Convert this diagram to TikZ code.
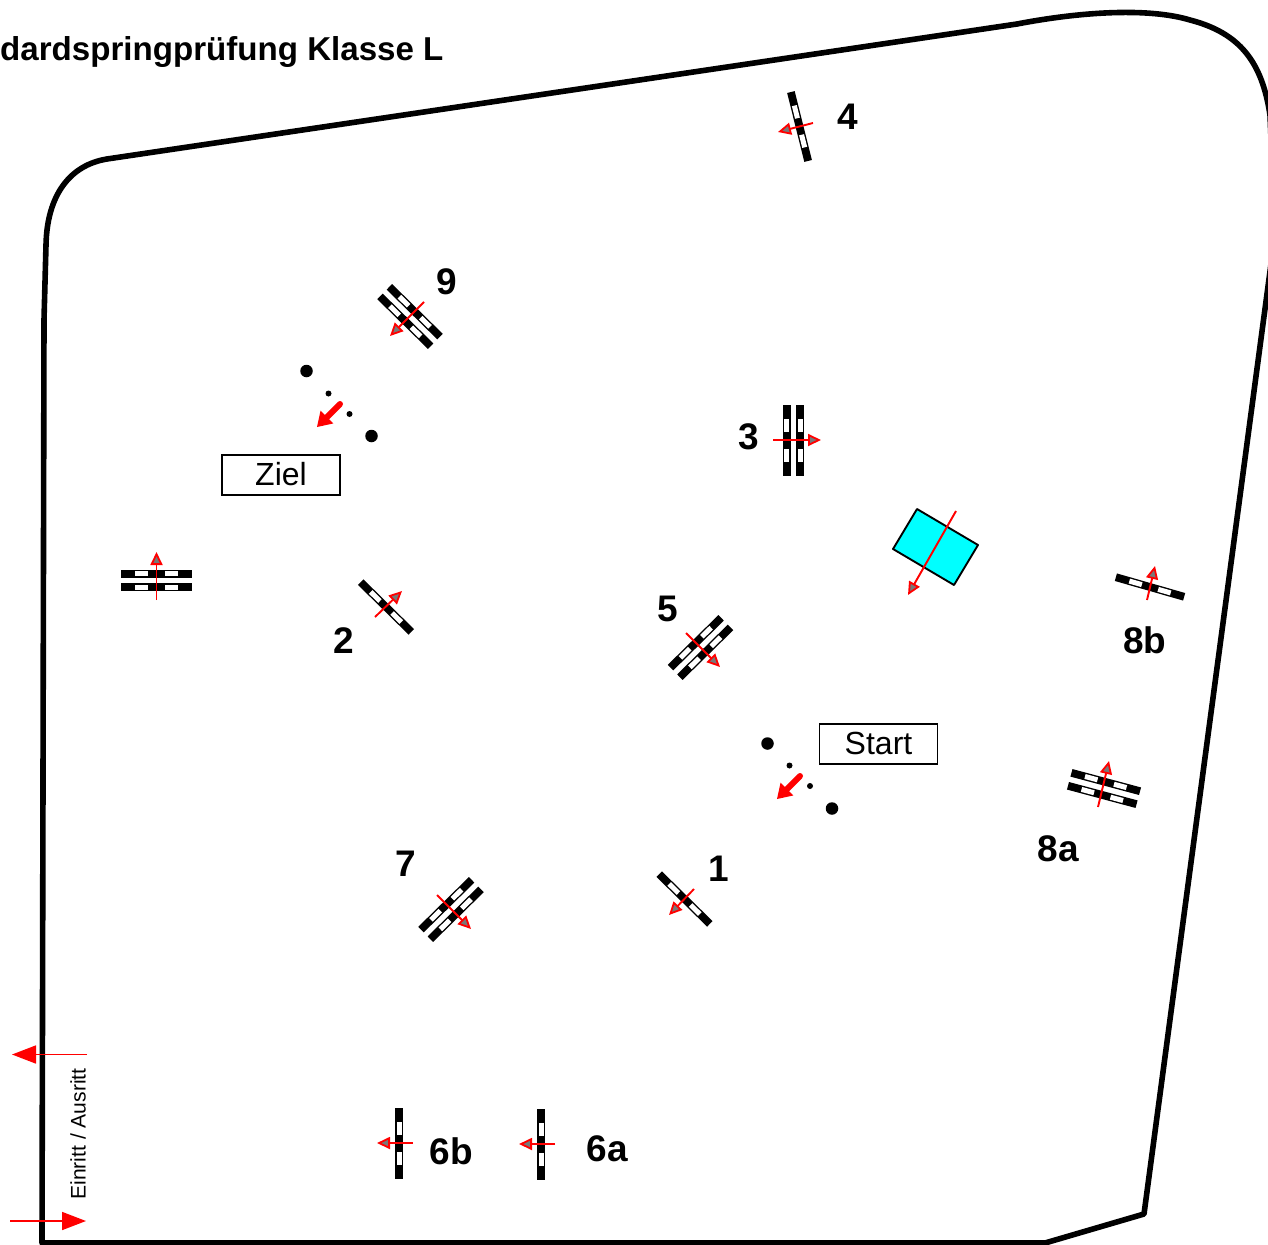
\documentclass[tikz,border=0pt]{standalone}
\usepackage{fontspec}
\setmainfont{Liberation Sans}
\usetikzlibrary{arrows.meta}
\definecolor{waterc}{RGB}{0,255,255}
\definecolor{tipgray}{RGB}{120,120,120}
\tikzset{
  border/.style={line width=5.6pt,line join=round,line cap=round},
  rarrow/.style={red,line width=1.9pt,-{Triangle[length=13pt,width=12pt,fill=tipgray,line width=1.8pt]},shorten >=0pt},
  garrow/.style={red,line width=6pt,line cap=round,-{Triangle[length=14pt,width=18pt,line width=0pt,round]}},
  entry/.style={red,line width=1.7pt,-{Triangle[length=24pt,width=18pt]}},
  numlabel/.style={font=\fontsize{37}{37}\selectfont\bfseries,inner sep=0pt},
  boxlabel/.style={draw,line width=1.5pt,font=\fontsize{32}{32}\selectfont,minimum width=118pt,minimum height=40pt,inner sep=0pt},
  bigdot/.style={fill=black,circle,minimum size=12.5pt,inner sep=0pt},
  smalldot/.style={fill=black,circle,minimum size=6pt,inner sep=0pt}
}
\newcommand{\railbar}[2]{% local y offset, half length
  \fill[black] (-#2,#1-3.9) rectangle (#2,#1+3.9);
  \fill[white] (-21.5,#1-2.5) rectangle (-8.5,#1+2.5);
  \fill[white] (8.5,#1-2.5) rectangle (21.5,#1+2.5);
}
\newcommand{\singlefence}[3]{\begin{scope}[shift={(#1,#2)},rotate=#3]\railbar{0}{35.5}\end{scope}}
\newcommand{\doublefence}[3]{\begin{scope}[shift={(#1,#2)},rotate=#3]\railbar{-6.7}{35.5}\railbar{6.7}{35.5}\end{scope}}
\begin{document}
\begin{tikzpicture}[x=1pt,y=-1pt]
\useasboundingbox (0,0) rectangle (1268,1244);
\begin{scope}
\clip (0,0) rectangle (1268,1244);
\draw[border] (1017,24) .. controls (1085,11) and (1150,8) .. (1190,20)
  .. controls (1240,33) and (1262,62) .. (1270,115) -- (1275,234)
  -- (1144,1214) -- (1045,1243) -- (42,1243) -- (44,320) -- (46,245)
  .. controls (47,195) and (70,165) .. (107,159) -- cycle;
% fences
\singlefence{799.5}{126.5}{-76}
\singlefence{386}{607}{-44.5}
\singlefence{684.5}{899}{-44.5}
\singlefence{1150}{587}{-16}
\singlefence{399}{1143.5}{90}
\singlefence{541}{1144.5}{90}
\doublefence{410}{316.5}{-44.5}
\doublefence{793.5}{440}{90}
\doublefence{156.5}{580.5}{0}
\doublefence{700.5}{647.5}{44.5}
\doublefence{451}{909.5}{44.5}
\doublefence{1104}{788.5}{-15}
% water
\draw[fill=waterc,line width=1.9pt,line join=round] (917,509) -- (978,545) -- (954,585) -- (893,549) -- cycle;
% jump arrows
\draw[rarrow] (813,123) -- (778,132);
\draw[rarrow] (424,302) -- (390,336);
\draw[rarrow] (773,440) -- (821,440);
\draw[rarrow] (956,511) -- (908,595);
\draw[rarrow] (1147,600) -- (1155,566);
\draw[rarrow] (1098,807) -- (1109,761);
\draw[rarrow] (686,633) -- (720,667);
\draw[rarrow] (375,617) -- (402,591);
\draw[rarrow] (156.5,600) -- (156.5,552);
\draw[rarrow] (437,895) -- (471,929);
\draw[rarrow] (694,889) -- (669,915);
\draw[rarrow] (413,1143) -- (377,1143);
\draw[rarrow] (555,1144) -- (519,1144);
% gates
\node[bigdot] (zielA) at (306.5,371) {};
\node[bigdot] (zielB) at (371.5,436) {};
\node[smalldot] (zielC) at (328.5,393.5) {};
\node[smalldot] (zielD) at (349.5,414) {};
\node[bigdot] (startA) at (767.5,743.5) {};
\node[bigdot] (startB) at (832,808.5) {};
\node[smalldot] (startC) at (789.5,765.5) {};
\node[smalldot] (startD) at (810,786) {};
\draw[garrow] (340,404) -- (317,427);
\draw[garrow] (800,776) -- (777,799);
\node[boxlabel] (ziel) at (281,475) {\raisebox{2pt}{Ziel}};
\node[boxlabel] (start) at (878.5,744) {\raisebox{2pt}{Start}};
% numbers
\node[numlabel] (n4) at (847.5,116.5) {4};
\node[numlabel] (n9) at (446.5,281.5) {9};
\node[numlabel] (n3) at (748.5,436.5) {3};
\node[numlabel] (n2) at (343.5,640.5) {2};
\node[numlabel] (n5) at (667.5,608.5) {5};
\node[numlabel] (n8b) at (1145,640.5) {8b};
\node[numlabel] (n8a) at (1058,848.5) {8a};
\node[numlabel] (n7) at (405.5,863.5) {7};
\node[numlabel] (n1) at (718.5,868.5) {1};
\node[numlabel] (n6b) at (451.5,1151.5) {6b};
\node[numlabel] (n6a) at (607,1148.5) {6a};
% title
\node[anchor=base west,inner sep=0pt,font=\fontsize{33.1}{33}\selectfont\bfseries] (title) at (0,60.5) {dardspringprüfung Klasse L};
% entry
\draw[entry] (87,1054.5) -- (12,1054.5);
\draw[entry] (10,1221) -- (86,1221);
\node[rotate=90,inner sep=0pt,font=\fontsize{21.1}{21}\selectfont] (einritt) at (78,1134) {Einritt / Ausritt};
\end{scope}
\end{tikzpicture}
\end{document}
